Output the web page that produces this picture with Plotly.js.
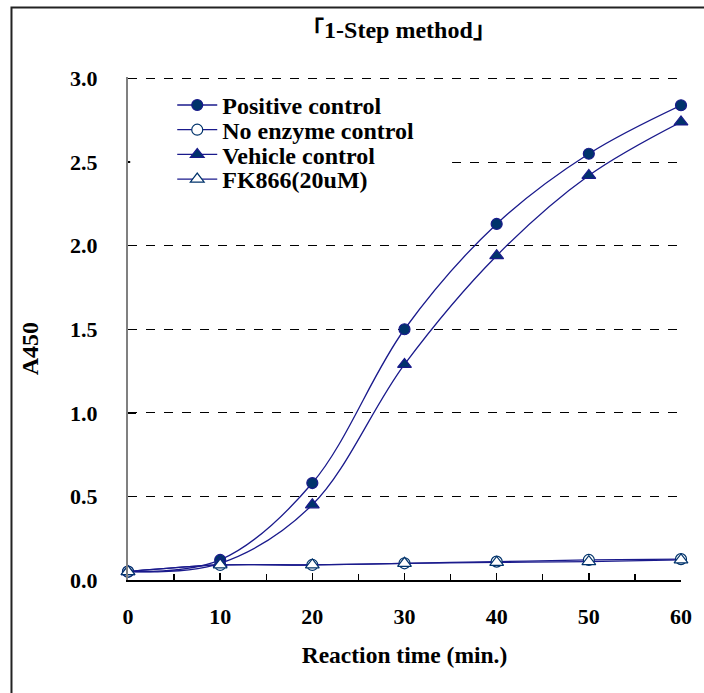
<!DOCTYPE html>
<html>
<head>
<meta charset="utf-8">
<script src="https://cdn.plot.ly/plotly-3.0.1.min.js"></script>
<style>html,body{margin:0;padding:0;background:#fff;}#chart{width:704px;height:693px;}</style>
</head>
<body>
<div id="chart"></div>
<script>
const time = [0, 10, 20, 30, 40, 50, 60];
const positiveControl = [0.05, 0.12, 0.58, 1.50, 2.13, 2.55, 2.84];
const noEnzymeControl = [0.05, 0.09, 0.09, 0.10, 0.11, 0.12, 0.125];
const vehicleControl = [0.05, 0.10, 0.45, 1.29, 1.94, 2.42, 2.74];
const fk866 = [0.05, 0.09, 0.09, 0.10, 0.105, 0.11, 0.12];
const seriesNames = ["Positive control", "No enzyme control", "Vehicle control", "FK866(20uM)"];
const yTicks = [0, 0.5, 1.0, 1.5, 2.0, 2.5, 3.0];
const yTickLabels = ["0.0", "0.5", "1.0", "1.5", "2.0", "2.5", "3.0"];
const xTicks = [0, 10, 20, 30, 40, 50, 60];

const serif = "Liberation Serif, Times New Roman, Noto Sans CJK SC, serif";
const lineColor = "#1a1a8c";
const markColor = "#00336b";

function tr(y, name, symbol, filled, size) {
  return {
    x: time, y: y, name: name, type: "scatter", mode: "lines+markers",
    cliponaxis: false,
    line: {shape: "spline", smoothing: 1, color: lineColor, width: 1.3},
    marker: {symbol: symbol, size: size, color: filled ? markColor : "#ffffff",
             line: {color: filled ? "#1a1a8c" : markColor, width: 1.2}}
  };
}

const data = [
  tr(positiveControl, seriesNames[0], "circle", true, 11),
  tr(noEnzymeControl, seriesNames[1], "circle", false, 11),
  tr(vehicleControl, seriesNames[2], "triangle-up", true, 12),
  tr(fk866, seriesNames[3], "triangle-up", false, 12)
];

const layout = {
  width: 704, height: 693,
  margin: {l: 128, r: 23, t: 77, b: 113},
  paper_bgcolor: "#ffffff", plot_bgcolor: "#ffffff",
  showlegend: true,
  font: {family: serif, size: 23, color: "#000"},
  title: {text: "<b>「1-Step method」</b>", x: 0.566, xanchor: "center", y: 0.957, yanchor: "middle",
          font: {family: serif, size: 24, color: "#000"}},
  xaxis: {
    range: [0, 60], tickvals: xTicks, ticktext: xTicks.map(String),
    showgrid: false, zeroline: false,
    showline: true, linecolor: "#000", linewidth: 2,
    ticks: "inside", ticklen: 7, tickcolor: "#000", tickwidth: 1.5,
    minor: {dtick: 5, tick0: 0, ticks: "inside", ticklen: 6, tickcolor: "#000", tickwidth: 1.2, showgrid: false},
    tickfont: {family: serif, size: 22, color: "#000", weight: "bold"},
    ticklabelstandoff: 16,
    title: {text: "<b>Reaction time (min.)</b>", standoff: 18, font: {family: serif, size: 23.5, color: "#000"}}
  },
  yaxis: {
    range: [0, 3.009], tickvals: yTicks, ticktext: yTickLabels,
    showgrid: true, gridcolor: "#000", gridwidth: 1, griddash: "dash",
    zeroline: false,
    showline: true, linecolor: "#808080", linewidth: 2,
    ticks: "inside", ticklen: 8, tickcolor: "#000", tickwidth: 1.5,
    tickfont: {family: serif, size: 22, color: "#000", weight: "bold"},
    ticklabelstandoff: 24
  },
  annotations: [
    {text: "<b>A450</b>", xref: "paper", yref: "paper", x: -0.177, y: 0.459,
     xanchor: "center", yanchor: "middle", textangle: -90, showarrow: false,
     font: {family: serif, size: 24, color: "#000"}}
  ],
  legend: {
    x: 0.08, y: 0.975, xanchor: "left", yanchor: "top",
    bgcolor: "rgba(0,0,0,0)", borderwidth: 0,
    font: {family: serif, size: 24, color: "#000", weight: "bold"},
    itemwidth: 40, tracegroupgap: 0
  },
  shapes: [
    {type: "rect", xref: "paper", yref: "paper", x0: 0.004, x1: 0.586, y0: 0.775, y1: 0.982,
     line: {width: 0}, fillcolor: "#ffffff", layer: "above"},
    {type: "rect", xref: "paper", yref: "paper", x0: -0.2107, x1: 2, y0: 1.1382, y1: -2,
     line: {color: "#222", width: 2}, fillcolor: "rgba(0,0,0,0)", layer: "above"}
  ]
};

Plotly.newPlot("chart", data, layout, {displayModeBar: false, staticPlot: true}).then(function (gd) {
  // tighten legend row spacing to match the reference (rows ~25px apart)
  const leg = gd.querySelector("g.legend");
  if (!leg) return;
  const m = /translate\(\s*([-\d.]+)[ ,]+([-\d.]+)\s*\)/.exec(leg.getAttribute("transform") || "");
  const ly = m ? parseFloat(m[2]) : 0;
  const items = leg.querySelectorAll("g.traces");
  const firstCenter = 105, step = 24.7;
  items.forEach(function (g, i) {
    const t = /translate\(\s*([-\d.]+)[ ,]+([-\d.]+)\s*\)/.exec(g.getAttribute("transform") || "");
    const tx = t ? parseFloat(t[1]) : 0;
    g.setAttribute("transform", "translate(" + tx + "," + (firstCenter + i * step - ly) + ")");
  });
});
</script>
</body>
</html>
